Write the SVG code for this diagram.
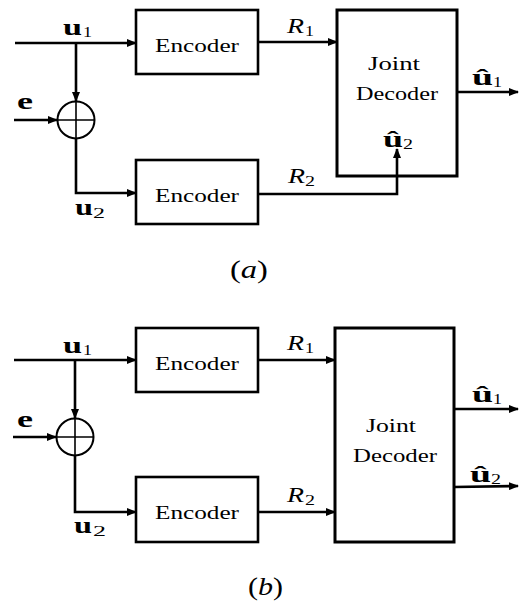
<svg xmlns="http://www.w3.org/2000/svg" width="519" height="608" viewBox="0 0 519 608">
<defs>
<marker id="ah" markerUnits="userSpaceOnUse" markerWidth="10" markerHeight="8" refX="9" refY="4" orient="auto">
<path d="M0,0 L10,4 L0,8 z" fill="#000"/>
</marker>
<style>
.box{fill:#fff;stroke:#000;stroke-width:2.6}
.dec{fill:#fff;stroke:#000;stroke-width:3}
.ar{fill:none;stroke:#000;stroke-width:2.6;marker-end:url(#ah)}
.sum{fill:#fff;stroke:#000;stroke-width:2}
.cr{stroke:#000;stroke-width:1.6}
text{font-family:'Liberation Serif','Times New Roman',Tinos,'DejaVu Serif',serif;fill:#000}
.t{font-size:19px}
.b{font-weight:bold;font-size:23px}
.s{font-size:15px}
.i{font-style:italic;font-size:21px}
.cap{font-size:26px}
</style>
</defs>

<!-- (a) -->
<g id="enc1a">
<rect class="box" x="136" y="10" width="122" height="64"/>
<text class="t" x="197" y="52" text-anchor="middle" textLength="84" lengthAdjust="spacingAndGlyphs">Encoder</text>
</g>
<g id="enc2a">
<rect class="box" x="136" y="160" width="122" height="64"/>
<text class="t" x="197" y="202" text-anchor="middle" textLength="84" lengthAdjust="spacingAndGlyphs">Encoder</text>
</g>
<g id="suma">
<circle class="sum" cx="76" cy="120" r="18.5"/>
<path class="cr" d="M57.5,120 H94.5 M76,101.5 V138.5"/>
</g>
<g id="deca">
<rect class="dec" x="337" y="10" width="120" height="166"/>
<text class="t" x="394" y="70" text-anchor="middle" textLength="52" lengthAdjust="spacingAndGlyphs">Joint</text>
<text class="t" x="397" y="100" text-anchor="middle" textLength="82" lengthAdjust="spacingAndGlyphs">Decoder</text>
<text class="b" x="383" y="147" textLength="20" lengthAdjust="spacingAndGlyphs">û</text>
<text class="s" x="403" y="149" textLength="10" lengthAdjust="spacingAndGlyphs">2</text>
</g>
<g id="connectors-a">
<path class="ar" d="M15,43 H136"/>
<path class="ar" d="M76,43 V101"/>
<path class="ar" d="M14,120 H57"/>
<path class="ar" d="M76,139 V193 H136"/>
<path class="ar" d="M258,42 H337"/>
<path class="ar" d="M258,194 H397 V149"/>
<path class="ar" d="M457,92 H518"/>
</g>
<g id="labels-a">
<text class="b" x="63" y="35" textLength="19" lengthAdjust="spacingAndGlyphs">u</text>
<text class="s" x="83" y="37" textLength="9" lengthAdjust="spacingAndGlyphs">1</text>
<text class="b" x="17" y="109" textLength="16" lengthAdjust="spacingAndGlyphs">e</text>
<text class="b" x="75" y="215" textLength="18" lengthAdjust="spacingAndGlyphs">u</text>
<text class="s" x="93" y="218" textLength="12" lengthAdjust="spacingAndGlyphs">2</text>
<text class="i" x="287" y="33" textLength="17" lengthAdjust="spacingAndGlyphs">R</text>
<text class="s" x="305" y="36" textLength="9" lengthAdjust="spacingAndGlyphs">1</text>
<text class="i" x="288" y="183" textLength="17" lengthAdjust="spacingAndGlyphs">R</text>
<text class="s" x="305" y="186" textLength="10" lengthAdjust="spacingAndGlyphs">2</text>
<text class="b" x="472" y="85" textLength="21" lengthAdjust="spacingAndGlyphs">û</text>
<text class="s" x="493" y="87" textLength="9" lengthAdjust="spacingAndGlyphs">1</text>
<text class="cap" x="230" y="278" textLength="38" lengthAdjust="spacingAndGlyphs">(<tspan font-style="italic">a</tspan>)</text>
</g>

<!-- (b) -->
<g id="enc1b">
<rect class="box" x="136" y="328" width="122" height="64"/>
<text class="t" x="197" y="370" text-anchor="middle" textLength="84" lengthAdjust="spacingAndGlyphs">Encoder</text>
</g>
<g id="enc2b">
<rect class="box" x="136" y="477" width="122" height="65"/>
<text class="t" x="197" y="519" text-anchor="middle" textLength="84" lengthAdjust="spacingAndGlyphs">Encoder</text>
</g>
<g id="sumb">
<circle class="sum" cx="75" cy="437" r="18.5"/>
<path class="cr" d="M56.5,437 H93.5 M75,418.5 V455.5"/>
</g>
<g id="decb">
<rect class="dec" x="335" y="328" width="119" height="214"/>
<text class="t" x="391" y="432" text-anchor="middle" textLength="50" lengthAdjust="spacingAndGlyphs">Joint</text>
<text class="t" x="395" y="462" text-anchor="middle" textLength="84" lengthAdjust="spacingAndGlyphs">Decoder</text>
</g>
<g id="connectors-b">
<path class="ar" d="M14,360 H136"/>
<path class="ar" d="M75,360 V418"/>
<path class="ar" d="M13,437 H56"/>
<path class="ar" d="M75,456 V512 H136"/>
<path class="ar" d="M258,360 H335"/>
<path class="ar" d="M258,512 H335"/>
<path class="ar" d="M454,409 H518"/>
<path class="ar" d="M454,487 L518,486"/>
</g>
<g id="labels-b">
<text class="b" x="63" y="353" textLength="19" lengthAdjust="spacingAndGlyphs">u</text>
<text class="s" x="83" y="355" textLength="9" lengthAdjust="spacingAndGlyphs">1</text>
<text class="b" x="17" y="427" textLength="16" lengthAdjust="spacingAndGlyphs">e</text>
<text class="b" x="74" y="533" textLength="18" lengthAdjust="spacingAndGlyphs">u</text>
<text class="s" x="93" y="536" textLength="13" lengthAdjust="spacingAndGlyphs">2</text>
<text class="i" x="287" y="350" textLength="17" lengthAdjust="spacingAndGlyphs">R</text>
<text class="s" x="305" y="353" textLength="9" lengthAdjust="spacingAndGlyphs">1</text>
<text class="i" x="287" y="502" textLength="17" lengthAdjust="spacingAndGlyphs">R</text>
<text class="s" x="305" y="505" textLength="10" lengthAdjust="spacingAndGlyphs">2</text>
<text class="b" x="472" y="402" textLength="21" lengthAdjust="spacingAndGlyphs">û</text>
<text class="s" x="493" y="404" textLength="9" lengthAdjust="spacingAndGlyphs">1</text>
<text class="b" x="470" y="482" textLength="21" lengthAdjust="spacingAndGlyphs">û</text>
<text class="s" x="491" y="484" textLength="10" lengthAdjust="spacingAndGlyphs">2</text>
<text class="cap" x="248" y="595" textLength="35" lengthAdjust="spacingAndGlyphs">(<tspan font-style="italic">b</tspan>)</text>
</g>
</svg>
